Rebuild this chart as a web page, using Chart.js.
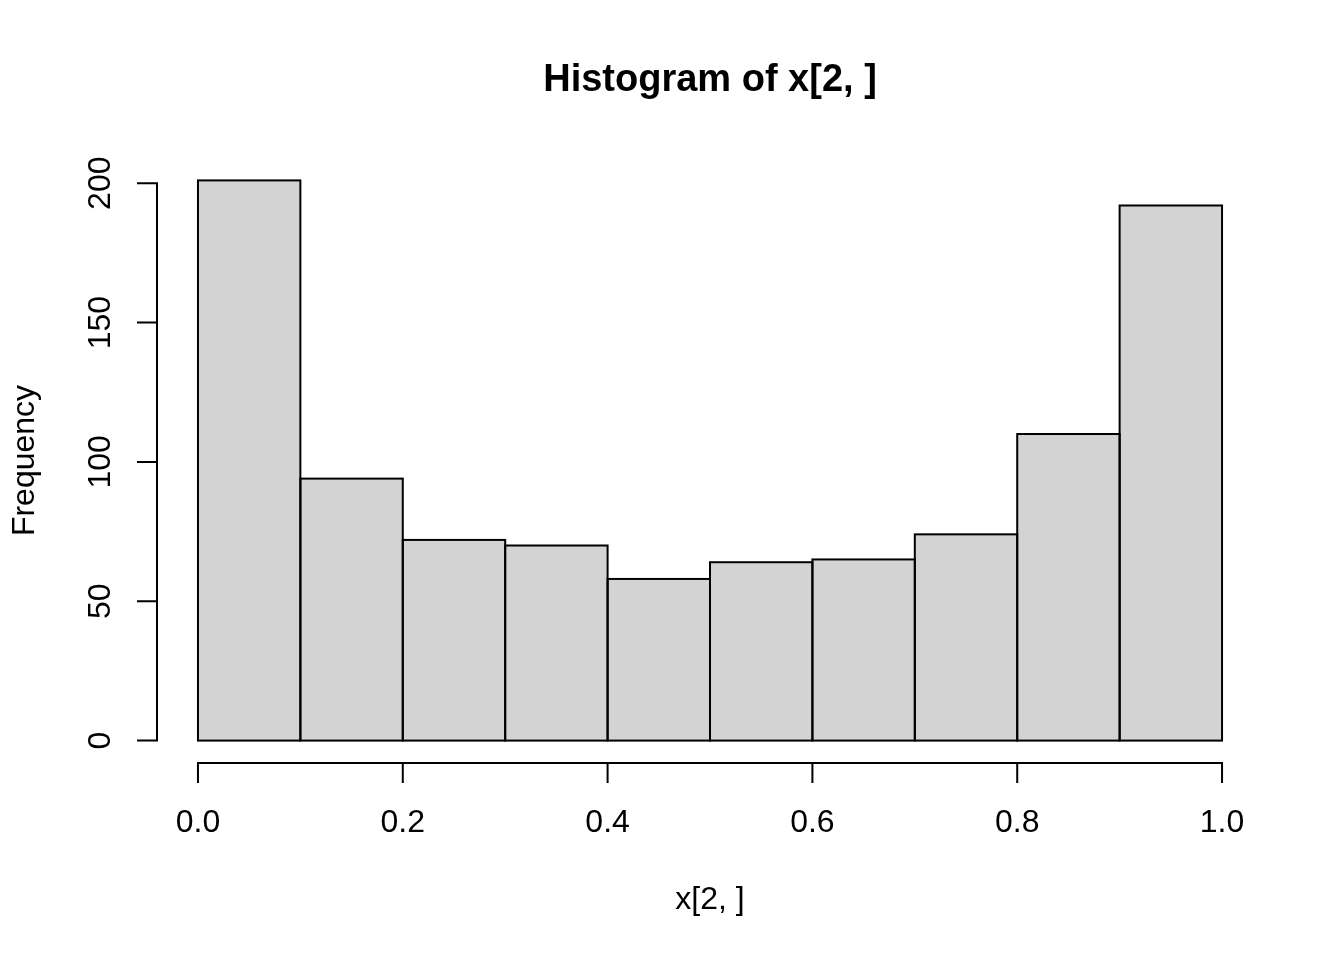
<!DOCTYPE html>
<html>
<head>
<meta charset="utf-8">
<script src="https://cdn.jsdelivr.net/npm/chart.js@4"></script>
<style>
html,body{margin:0;padding:0;background:#fff;}
#wrap{width:1344px;height:960px;}
</style>
</head>
<body>
<div id="wrap"><canvas id="c" width="1344" height="960"></canvas></div>
<script>
const binMids = [0.05, 0.15, 0.25, 0.35, 0.45, 0.55, 0.65, 0.75, 0.85, 0.95];
const counts = [201, 94, 72, 70, 58, 64, 65, 74, 110, 192];
const xTicks = [0.0, 0.2, 0.4, 0.6, 0.8, 1.0];
const xTickLabels = ["0.0", "0.2", "0.4", "0.6", "0.8", "1.0"];
const yTicks = [0, 50, 100, 150, 200];
const yTickLabels = ["0", "50", "100", "150", "200"];
const titleText = "Histogram of x[2, ]";
const xTitle = "x[2, ]";
const yTitle = "Frequency";

const FONT = '"Liberation Sans", Arial, Helvetica, sans-serif';

const barOutline = {
  id: 'barOutline',
  afterDatasetsDraw(chart) {
    const ctx = chart.ctx;
    const meta = chart.getDatasetMeta(0);
    ctx.save();
    ctx.strokeStyle = '#000';
    ctx.lineWidth = 2;
    ctx.lineJoin = 'miter';
    meta.data.forEach(bar => {
      const p = bar.getProps(['x', 'y', 'base', 'width'], true);
      const l = p.x - p.width / 2, r = p.x + p.width / 2;
      ctx.strokeRect(l, p.y, r - l, p.base - p.y);
    });
    ctx.restore();
  }
};

const rAxes = {
  id: 'rAxes',
  afterDraw(chart) {
    const ctx = chart.ctx;
    const xs = chart.scales.x, ys = chart.scales.y;
    const area = chart.chartArea;
    ctx.save();
    ctx.strokeStyle = '#000';
    ctx.fillStyle = '#000';
    ctx.lineWidth = 2;
    ctx.lineCap = 'butt';
    // x axis
    const yAx = area.bottom;
    const x0 = xs.getPixelForValue(xTicks[0]);
    const x1 = xs.getPixelForValue(xTicks[xTicks.length - 1]);
    ctx.beginPath();
    ctx.moveTo(x0 - 1, yAx); ctx.lineTo(x1 + 1, yAx);
    xTicks.forEach(v => {
      const px = xs.getPixelForValue(v);
      ctx.moveTo(px, yAx); ctx.lineTo(px, yAx + 20);
    });
    ctx.stroke();
    ctx.font = '32px ' + FONT;
    ctx.textAlign = 'center';
    ctx.textBaseline = 'middle';
    xTicks.forEach((v, i) => {
      ctx.fillText(xTickLabels[i], xs.getPixelForValue(v), 823);
    });
    // y axis
    const xAx = area.left;
    const y0 = ys.getPixelForValue(yTicks[0]);
    const y1 = ys.getPixelForValue(yTicks[yTicks.length - 1]);
    ctx.beginPath();
    ctx.moveTo(xAx, y0 + 1); ctx.lineTo(xAx, y1 - 1);
    yTicks.forEach(v => {
      const py = ys.getPixelForValue(v);
      ctx.moveTo(xAx, py); ctx.lineTo(xAx - 20, py);
    });
    ctx.stroke();
    yTicks.forEach((v, i) => {
      const py = ys.getPixelForValue(v);
      ctx.save();
      ctx.translate(101, py);
      ctx.rotate(-Math.PI / 2);
      ctx.fillText(yTickLabels[i], 0, 0);
      ctx.restore();
    });
    // axis titles
    ctx.fillText(xTitle, (area.left + area.right) / 2, 900);
    ctx.save();
    ctx.translate(25, (area.top + area.bottom) / 2);
    ctx.rotate(-Math.PI / 2);
    ctx.fillText(yTitle, 0, 0);
    ctx.restore();
    // main title
    ctx.font = 'bold 38px ' + FONT;
    ctx.fillText(titleText, (area.left + area.right) / 2, 81);
    ctx.restore();
  }
};

new Chart(document.getElementById('c'), {
  type: 'bar',
  data: {
    datasets: [{
      data: binMids.map((m, i) => ({x: m, y: counts[i]})),
      backgroundColor: '#D3D3D3',
      borderWidth: 0,
      borderSkipped: false,
      inflateAmount: 0,
      base: 0,
      barPercentage: 1.0,
      categoryPercentage: 1.0
    }]
  },
  plugins: [barOutline, rAxes],
  options: {
    responsive: false,
    animation: false,
    devicePixelRatio: 1,
    layout: { padding: { left: 157, right: 81, top: 158, bottom: 197 } },
    plugins: { legend: { display: false }, tooltip: { enabled: false }, title: { display: false } },
    scales: {
      x: { type: 'linear', min: -0.04, max: 1.04, display: false, offset: false },
      y: { type: 'linear', min: -8.04, max: 209.04, display: false }
    }
  }
});
</script>
</body>
</html>
